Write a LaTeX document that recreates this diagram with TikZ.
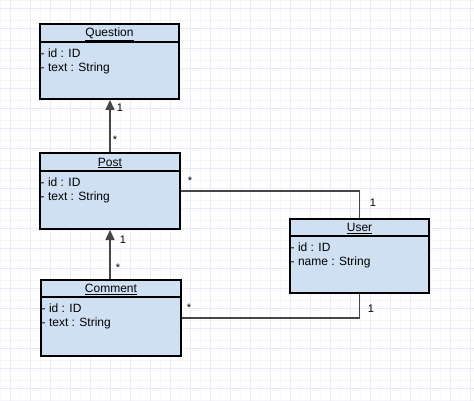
\documentclass[tikz,border=0pt]{standalone}
\usepackage{fontspec}
\setmainfont{Liberation Sans}
\usetikzlibrary{arrows.meta,positioning}
\definecolor{classfill}{RGB}{207,224,242}
\definecolor{gridminor}{RGB}{246,246,251}
\definecolor{gridmajor}{RGB}{235,235,246}
\definecolor{linkgray}{RGB}{70,70,70}

\tikzset{
  classbox/.style={draw=black, line width=2pt, fill=classfill, minimum width=139pt, minimum height=75pt, inner sep=0pt},
  classname/.style={font=\fontsize{12}{14}\selectfont, inner sep=0pt},
  attrs/.style={font=\fontsize{12}{14}\selectfont, align=left, inner sep=1pt, anchor=north west},
  divider/.style={draw=black, line width=2pt},
  link/.style={draw=linkgray, line width=1.5pt},
  inherit/.style={link, -{Triangle[length=10pt,width=9pt]}},
  mult/.style={font=\fontsize{11}{13}\selectfont, inner sep=0pt},
}

\begin{document}
\begin{tikzpicture}[x=1pt,y=-1pt]
  \useasboundingbox (0,0) rectangle (474,401);
  \fill[white] (0,0) rectangle (474,401);
  \draw[gridminor, line width=0.6pt, step=10pt] (0,0) grid (474,401);
  \draw[gridmajor, line width=0.8pt, step=20pt, xshift=10pt, yshift=-8pt] (-10,-8) grid (474,401);

% classes
\node[classbox] (question) at (109.5,61.5) {};
\node[classname] (questionname) at ([yshift=-11pt]question.north) {\underline{Question}};
\draw[divider] ([yshift=-19pt]question.north west) -- ([yshift=-19pt]question.north east);
\node[attrs] (questionattrs) at ([xshift=0.5pt,yshift=-24.5pt]question.north west) {- id : ID\\- text : String};

\node[classbox, minimum width=140pt, minimum height=76pt] (post) at (110,191) {};
\node[classname] (postname) at ([yshift=-11pt]post.north) {\underline{Post}};
\draw[divider] ([yshift=-19pt]post.north west) -- ([yshift=-19pt]post.north east);
\node[attrs] (postattrs) at ([xshift=0.5pt,yshift=-24.5pt]post.north west) {- id : ID\\- text : String};

\node[classbox, minimum width=140pt, minimum height=76pt] (comment) at (111,318) {};
\node[classname] (commentname) at ([yshift=-10.5pt]comment.north) {\underline{Comment}};
\draw[divider] ([yshift=-18pt]comment.north west) -- ([yshift=-18pt]comment.north east);
\node[attrs] (commentattrs) at ([xshift=0.5pt,yshift=-23.5pt]comment.north west) {- id : ID\\- text : String};

\node[classbox, minimum height=74pt] (user) at (359.5,256) {};
\node[classname] (username) at ([yshift=-10.5pt]user.north) {\underline{User}};
\draw[divider] ([yshift=-18pt]user.north west) -- ([yshift=-18pt]user.north east);
\node[attrs] (userattrs) at ([xshift=0.5pt,yshift=-23.5pt]user.north west) {- id : ID\\- name : String};

% associations
\draw[inherit] (post.north) -- (post.north |- question.south);
\draw[inherit] (comment.north -| post.south) -- (post.south);
\draw[link] (post.east) -| (user.north);
\draw[link] (comment.east) -| (user.south);

% multiplicities
\node[mult] (qp1) at ([xshift=10.5pt,yshift=-8pt]question.south) {1};
\node[mult] (qpmany) at ([xshift=5pt,yshift=12pt]post.north) {*};
\node[mult] (pc1) at ([xshift=13pt,yshift=-10pt]post.south) {1};
\node[mult] (pcmany) at ([xshift=7pt,yshift=11pt]comment.north) {*};
\node[mult] (pu1) at ([xshift=13.5pt,yshift=15pt]user.north) {1};
\node[mult] (pumany) at ([xshift=9pt,yshift=10pt]post.east) {*};
\node[mult] (cu1) at ([xshift=11.5pt,yshift=-15pt]user.south) {1};
\node[mult] (cumany) at ([xshift=7pt,yshift=10pt]comment.east) {*};

\end{tikzpicture}
\end{document}
